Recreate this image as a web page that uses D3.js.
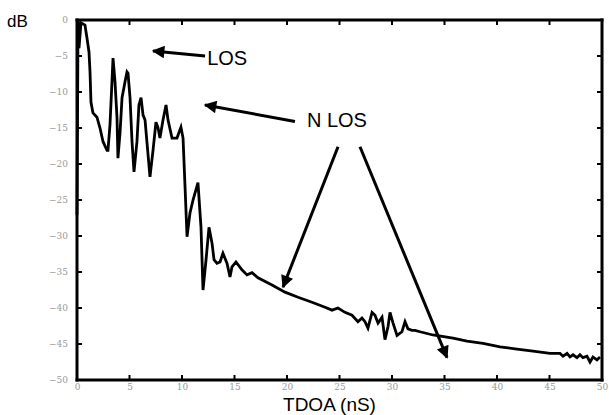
<!DOCTYPE html>
<html>
<head>
<meta charset="utf-8">
<script src="https://cdn.jsdelivr.net/npm/d3@7"></script>
<style>
  body { margin: 0; background: #fff; }
  svg { display: block; font-family: "Liberation Sans", Arial, sans-serif; }
</style>
</head>
<body>
<svg id="chart" width="609" height="415"></svg>
<script>
// power delay profile
const tdoa = [0, 0.1, 0.19, 0.38, 0.76, 0.95, 1.14, 1.24, 1.33, 1.52, 1.9, 2.19, 2.48, 2.86, 2.95,
  3.14, 3.33, 3.43, 3.62, 3.81, 3.9, 4.1, 4.29, 4.57, 4.76, 4.86, 5.05, 5.24, 5.43, 5.71, 5.9,
  6.1, 6.29, 6.48, 6.67, 6.95, 7.24, 7.52, 7.71, 7.9, 8.19, 8.48, 8.67, 9.05, 9.52, 9.9, 10.1,
  10.29, 10.48, 10.76, 11.05, 11.52, 11.81, 12, 12.29, 12.57, 12.86, 13.05, 13.33, 13.62, 13.9,
  14.29, 14.57, 14.76, 15.14, 15.71, 16.19, 16.67, 17.24, 18.57, 19.81, 21.05, 22.38, 23.62,
  24.29, 24.86, 25.52, 26.19, 26.76, 27.14, 27.43, 27.71, 28.1, 28.38, 28.67, 29.05, 29.33,
  29.62, 29.81, 30.1, 30.48, 30.95, 31.24, 31.52, 31.9, 32.19, 32.67, 33.9, 35.81, 37.14,
  38.67, 40.29, 41.9, 43.43, 45.05, 46, 46.29, 46.67, 46.95, 47.24, 47.62, 47.9, 48.19, 48.57,
  48.86, 49.14, 49.52, 49.81];
const db = [-27.1, 0, -3.9, -0.4, -0.7, -2.5, -4.4, -7.2, -11.4, -12.9, -13.5, -15, -16.9, -18.1, -18.1,
  -14.6, -8.6, -5.3, -8.6, -13.6, -19.2, -15.6, -10.8, -8.6, -7.2, -7.4, -10.8, -16.9, -21.1, -16.9, -11.8,
  -10.8, -13.2, -13.9, -17.1, -21.8, -18.1, -14.2, -14.9, -16.4, -13.9, -11.8, -13.9, -16.4, -16.4, -14.9, -16.4,
  -23.2, -30.1, -26.8, -25, -22.6, -28.8, -37.5, -33.3, -28.8, -31, -33.3, -33.8, -33.6, -32.4,
  -33.8, -35.7, -34.3, -33.6, -34.7, -35.4, -35.1, -35.8, -36.8, -37.8, -38.5, -39.2, -39.9,
  -40.3, -40, -40.6, -41, -41.9, -41.4, -41.9, -42.8, -40.6, -41, -42.1, -41.3, -44.4,
  -42.6, -40.6, -42.1, -43.8, -43.3, -41.9, -42.9, -43.1, -43.1, -43.3, -43.75, -44.2, -44.6,
  -44.9, -45.4, -45.7, -46, -46.3, -46.3, -46.7, -46.3, -46.8, -46.5, -46.9, -46.5, -46.9, -46.7,
  -47.5, -46.8, -47.2, -46.8];

const xTicks = [0, 5, 10, 15, 20, 25, 30, 35, 40, 45, 50];
const yTicks = [0, -5, -10, -15, -20, -25, -30, -35, -40, -45, -50];

// annotations, in data units: [tailX, tailY, tipX, tipY]
const arrows = [
  [12.2, -5.0, 7.24, -4.3],
  [20.76, -14.1, 12.19, -11.8],
  [24.86, -17.6, 19.62, -37.1],
  [26.95, -17.6, 35.24, -46.9]
];
const labels = [
  {text: "LOS", x: 12.4, y: -5.3},
  {text: "N LOS", x: 21.9, y: -13.9}
];

const svg = d3.select("#chart"),
    margin = {top: 20, right: 7, bottom: 35, left: 77},
    width = +svg.attr("width"),
    height = +svg.attr("height");

const x = d3.scaleLinear().domain([0, 50]).range([margin.left, width - margin.right]);
const y = d3.scaleLinear().domain([-50, 0]).range([height - margin.bottom, margin.top]);

// tick labels from the axis generators
svg.append("g")
    .attr("transform", "translate(0," + y(-50) + ")")
    .call(d3.axisBottom(x).tickValues(xTicks).tickSize(0).tickPadding(4));
svg.append("g")
    .attr("transform", "translate(" + x(0) + ",0)")
    .call(d3.axisLeft(y).tickValues(yTicks).tickSize(0).tickPadding(9));
svg.selectAll(".domain").remove();
svg.selectAll(".tick line").remove();
svg.selectAll(".tick text")
    .style("fill", "#9a9a9a")
    .style("font-family", "'DejaVu Serif', serif")
    .style("font-size", "9px");

// frame and inward ticks as filled bars
const lw = 3, tw = 2, tl = 5;
const x0 = x(0), x1 = x(50), y0 = y(0), y1 = y(-50);
const bars = [
  [x0 - lw / 2, y0 - lw / 2, x1 - x0 + lw, lw],
  [x0 - lw / 2, y1 - lw / 2, x1 - x0 + lw, lw],
  [x0 - lw / 2, y0 - lw / 2, lw, y1 - y0 + lw],
  [x1 - lw / 2, y0 - lw / 2, lw, y1 - y0 + lw]
];
xTicks.forEach(t => {
  bars.push([x(t) - tw / 2, y1 - tl, tw, tl]);
  bars.push([x(t) - tw / 2, y0, tw, tl]);
});
yTicks.forEach(t => {
  bars.push([x0, y(t) - tw / 2, tl, tw]);
  bars.push([x1 - tl, y(t) - tw / 2, tl, tw]);
});
svg.append("g").selectAll("rect")
    .data(bars)
  .enter().append("rect")
    .attr("x", d => d[0]).attr("y", d => d[1])
    .attr("width", d => d[2]).attr("height", d => d[3])
    .style("fill", "#000");

const line = d3.line()
    .x((d, i) => x(tdoa[i]))
    .y(d => y(d));

svg.append("path")
    .datum(db)
    .attr("fill", "none")
    .attr("stroke", "#000")
    .attr("stroke-width", 2.8)
    .attr("stroke-linejoin", "miter")
    .attr("d", line);

// arrows
svg.append("defs").append("marker")
    .attr("id", "head")
    .attr("viewBox", "0 0 10 10")
    .attr("refX", 9).attr("refY", 5)
    .attr("markerWidth", 5).attr("markerHeight", 4.2)
    .attr("markerUnits", "strokeWidth")
    .attr("orient", "auto")
  .append("path")
    .attr("d", "M0,0L10,5L0,10Z")
    .attr("fill", "#000");

svg.selectAll(".arrow")
    .data(arrows)
  .enter().append("line")
    .attr("class", "arrow")
    .attr("x1", d => x(d[0])).attr("y1", d => y(d[1]))
    .attr("x2", d => x(d[2])).attr("y2", d => y(d[3]))
    .attr("stroke", "#000")
    .attr("stroke-width", 3)
    .attr("marker-end", "url(#head)");

svg.selectAll(".note")
    .data(labels)
  .enter().append("text")
    .attr("class", "note")
    .attr("x", d => x(d.x))
    .attr("y", d => y(d.y))
    .attr("dy", "0.36em")
    .attr("font-size", 20)
    .attr("fill", "#000")
    .text(d => d.text);

svg.append("text")
    .attr("x", 7).attr("y", 27)
    .attr("font-size", 17)
    .text("dB");

svg.append("text")
    .attr("x", (x(0) + x(50)) / 2 - 10)
    .attr("y", 411)
    .attr("text-anchor", "middle")
    .attr("font-size", 19)
    .text("TDOA (nS)");
</script>
</body>
</html>
